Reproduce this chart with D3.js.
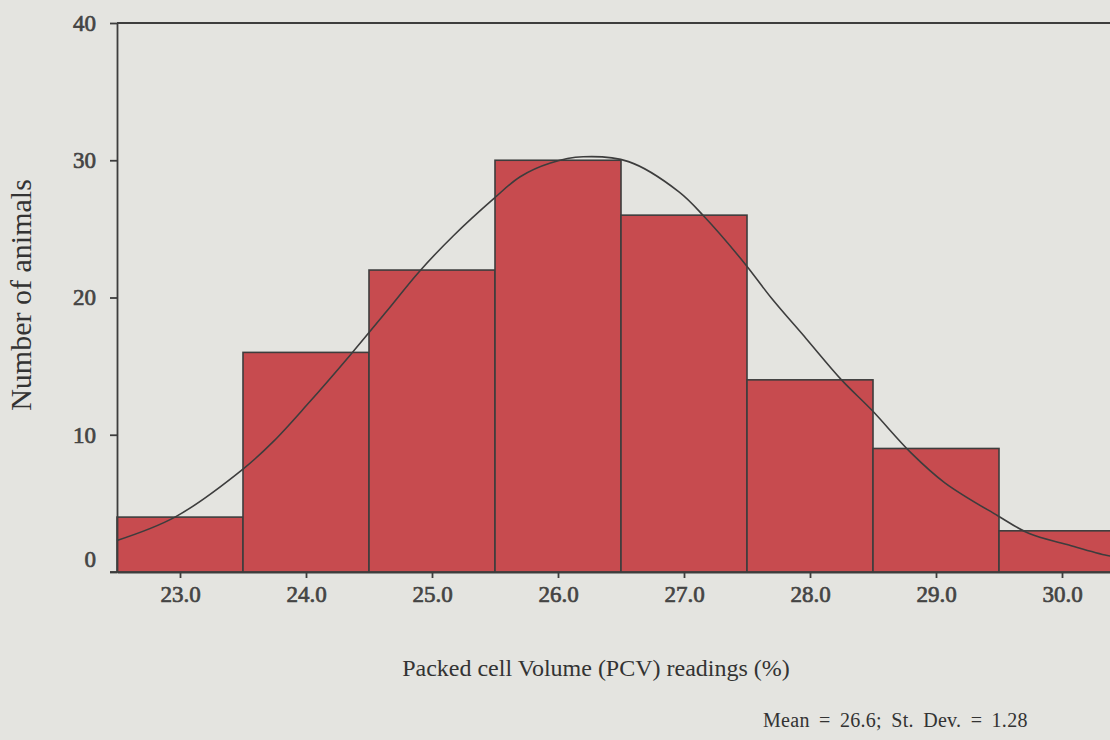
<!DOCTYPE html>
<html>
<head>
<meta charset="utf-8">
<script src="https://cdn.jsdelivr.net/npm/d3@7"></script>
<style>
  body { margin: 0; background: #e4e4e0; overflow: hidden; }
  svg { display: block; font-family: 'Liberation Serif', 'Times New Roman', serif; }
</style>
</head>
<body>
<div id="chart"></div>
<script>
const width = 1110;
const height = 740;

// histogram bins (PCV value, bin centre) and counts
const pcvValues = [23, 24, 25, 26, 27, 28, 29, 30];
const animalCounts = [4, 16, 22, 30, 26, 14, 9, 3];

// fitted curve, points
const curveX = [22.5, 22.96, 23.5, 23.74, 24.01, 24.35, 24.64, 24.9, 25.17, 25.49, 25.7, 25.94, 26.2,
                26.56, 26.96, 27.16, 27.48, 27.69, 27.97, 28.25, 28.49, 28.8, 29.07, 29.49, 29.74, 30.04, 30.36, 30.5];
const curveY = [2.3, 4.0, 7.5, 9.5, 12.2, 15.8, 19.0, 21.9, 24.5, 27.2, 28.8, 29.8, 30.25,
                29.9, 27.7, 25.9, 22.5, 20.0, 17.0, 14.0, 11.8, 8.7, 6.5, 4.1, 2.8, 2.0, 1.2, 1.0];

const yTicks = [0, 10, 20, 30, 40];
const xTicks = [23, 24, 25, 26, 27, 28, 29, 30];
const xTitle = 'Packed cell Volume (PCV) readings (%)';
const yTitle = 'Number of animals';
const statsNote = 'Mean = 26.6; St. Dev. = 1.28';

const svg = d3.select('#chart')
  .append('svg')
  .attr('width', width)
  .attr('height', height);

const xScale = d3.scaleLinear()
                 .domain([22.5, 30.5])
                 .range([117, 1125]);

const yScale = d3.scaleLinear()
                 .domain([0, 40])
                 .range([572, 23]);

const ink = '#3d3d3d';

// bars
svg.selectAll('rect.bar')
   .data(pcvValues)
   .enter()
   .append('rect')
   .attr('class', 'bar')
   .attr('x', d => xScale(d - 0.5))
   .attr('width', d => xScale(d + 0.5) - xScale(d - 0.5))
   .attr('y', (d, i) => yScale(animalCounts[i]))
   .attr('height', (d, i) => yScale(0) - yScale(animalCounts[i]))
   .style('fill', '#c74b4f')
   .style('stroke', ink)
   .style('stroke-width', 1.6);

// normal curve
const line = d3.line()
  .x((d, i) => xScale(curveX[i]))
  .y(d => yScale(d))
  .curve(d3.curveCatmullRom.alpha(0.5));

svg.append('path')
   .datum(curveY)
   .attr('d', line)
   .style('fill', 'none')
   .style('stroke', ink)
   .style('stroke-width', 1.6);

// top frame line
svg.append('line')
   .attr('x1', xScale(22.5))
   .attr('x2', xScale(30.5))
   .attr('y1', yScale(40))
   .attr('y2', yScale(40))
   .style('stroke', ink)
   .style('stroke-width', 1.8);

// axes
const xAxis = d3.axisBottom(xScale)
  .tickValues(xTicks)
  .tickFormat(d3.format('.1f'))
  .tickSizeInner(6)
  .tickSizeOuter(0)
  .tickPadding(8);

const yAxis = d3.axisLeft(yScale)
  .tickValues(yTicks)
  .tickFormat(d3.format('d'))
  .tickSizeInner(7)
  .tickSizeOuter(0)
  .tickPadding(14);

const gx = svg.append('g')
   .attr('id', 'x-axis')
   .attr('transform', 'translate(0,' + yScale(0) + ')')
   .call(xAxis);

const gy = svg.append('g')
   .attr('id', 'y-axis')
   .attr('transform', 'translate(' + xScale(22.5) + ',0)')
   .call(yAxis);

[gx, gy].forEach(g => {
  g.selectAll('path, line').style('stroke', ink).style('stroke-width', 1.8);
  g.selectAll('text')
   .style('font-family', "'Liberation Serif', serif")
   .style('font-size', '23px')
   .style('stroke', '#444')
   .style('stroke-width', 0.7)
   .style('fill', '#444');
});

// baseline tick extends left of the axis
gy.append('line')
  .attr('x1', -7).attr('x2', 0)
  .attr('y1', yScale(0)).attr('y2', yScale(0))
  .style('stroke', ink).style('stroke-width', 1.8);

// lift the 0 label off the x axis
gy.selectAll('.tick text')
  .filter(d => d === 0)
  .attr('dy', '-0.25em');

// titles
svg.append('text')
   .text(xTitle)
   .attr('x', 596)
   .attr('y', 676)
   .attr('text-anchor', 'middle')
   .style('font-size', '24px')
   .style('fill', '#333');

svg.append('text')
   .text(yTitle)
   .attr('transform', 'translate(31,295) rotate(-90)')
   .attr('text-anchor', 'middle')
   .style('font-size', '30px')
   .style('fill', '#333');

svg.append('text')
   .text(statsNote)
   .attr('x', 763)
   .attr('y', 727)
   .style('font-size', '20px')
   .style('letter-spacing', '0.3px')
   .style('word-spacing', '4px')
   .style('fill', '#333');
</script>
</body>
</html>
